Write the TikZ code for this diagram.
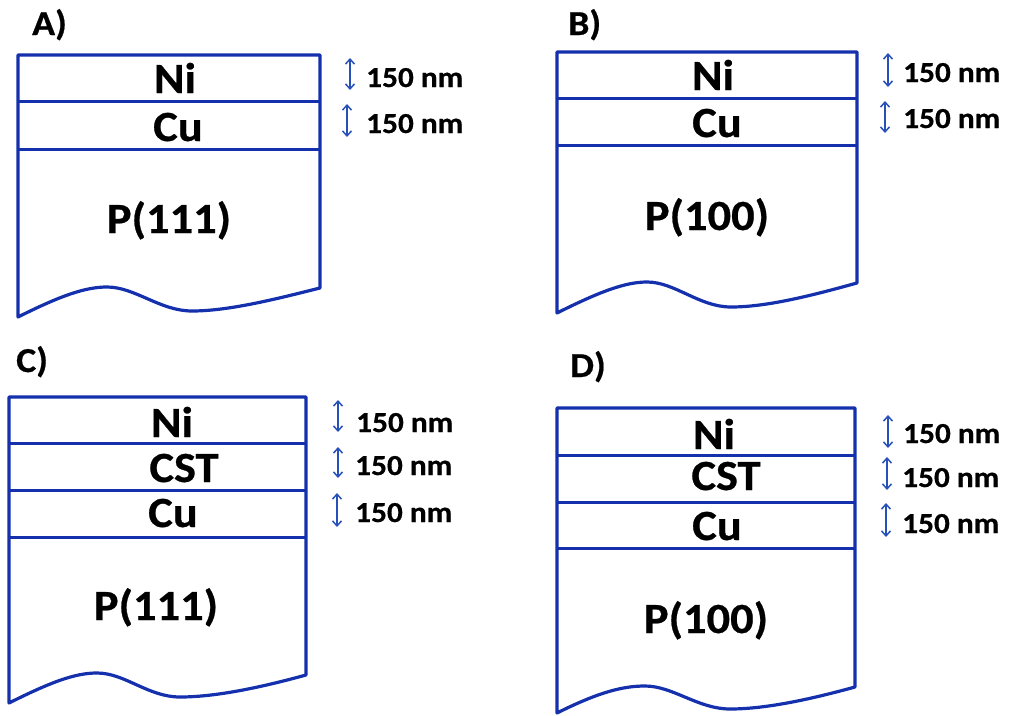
\documentclass[tikz,border=0pt]{standalone}
\usepackage{fontspec}
\setmainfont{Carlito}
\newfontfamily\figfont{Carlito}[FakeStretch=1.08,BoldFeatures={FakeBold=0.6}]
\usetikzlibrary{arrows.meta}
\definecolor{boxblue}{RGB}{20,48,172}
\definecolor{arrowblue}{RGB}{40,80,185}
\begin{document}
\begin{tikzpicture}[x=1pt,y=-1pt,
  outline/.style={draw=boxblue,line width=3.2pt,line join=round},
  divider/.style={draw=boxblue,line width=3pt},
  layerlbl/.style={font=\figfont\fontsize{43}{43}\selectfont\bfseries,anchor=base,inner sep=0pt},
  dimlbl/.style={font=\figfont\fontsize{29}{29}\selectfont\bfseries,anchor=base west,inner sep=0pt},
  panellbl/.style={font=\figfont\fontsize{35}{35}\selectfont\bfseries,anchor=base west,inner sep=0pt},
  dimarrow/.style={draw=arrowblue,line width=1.5pt,{Straight Barb[length=5pt,width=9pt]}-{Straight Barb[length=5pt,width=9pt]}}]
\useasboundingbox (0,0) rectangle (1009,715);

% ---------- Panel A ----------
\node[panellbl] (lA) at (32,35) {A)};
\draw[outline] (320,288) -- (320,55) -- (18,55) -- (18,317)
  .. controls (60,296) and (85,287) .. (107,287)
  .. controls (135,287) and (160,311) .. (192,311)
  .. controls (230,311) and (280,298) .. (320,288) -- cycle;
\draw[divider] (18,101) -- (320,101);
\draw[divider] (18,149) -- (320,149);
\node[layerlbl] (A1) at (175,93) {Ni};
\node[layerlbl] (A2) at (178,141) {Cu};
\node[layerlbl] (A3) at (169,233) {P(111)};
\coordinate (aA1t) at (350,58); \coordinate (aA1b) at (350,90);
\coordinate (aA2t) at (347,104); \coordinate (aA2b) at (347,137);
\draw[dimarrow] (aA1t) -- (aA1b);
\draw[dimarrow] (aA2t) -- (aA2b);
\node[dimlbl] (dA1) at (366,87) {150 nm};
\node[dimlbl] (dA2) at (366,133) {150 nm};

% ---------- Panel B ----------
\node[panellbl] (lB) at (568,35) {B)};
\draw[outline] (857,283) -- (857,52) -- (557,52) -- (557,313)
  .. controls (599,292) and (625,282) .. (647,282)
  .. controls (675,282) and (699,307) .. (731,307)
  .. controls (769,307) and (817,294) .. (857,283) -- cycle;
\draw[divider] (557,98) -- (857,98);
\draw[divider] (557,145) -- (857,145);
\node[layerlbl] (B1) at (713,90) {Ni};
\node[layerlbl] (B2) at (717,137) {Cu};
\node[layerlbl] (B3) at (707,230) {P(100)};
\coordinate (aB1t) at (888,53); \coordinate (aB1b) at (888,87);
\coordinate (aB2t) at (885,101); \coordinate (aB2b) at (885,133);
\draw[dimarrow] (aB1t) -- (aB1b);
\draw[dimarrow] (aB2t) -- (aB2b);
\node[dimlbl] (dB1) at (903,82) {150 nm};
\node[dimlbl] (dB2) at (903,128) {150 nm};

% ---------- Panel C ----------
\node[panellbl] (lC) at (16,372) {C)};
\draw[outline] (306,675) -- (306,397) -- (9,397) -- (9,703)
  .. controls (51,682) and (75,673) .. (97,673)
  .. controls (125,673) and (148,697) .. (180,697)
  .. controls (218,697) and (266,686) .. (306,675) -- cycle;
\draw[divider] (9,443) -- (306,443);
\draw[divider] (9,490) -- (306,490);
\draw[divider] (9,537) -- (306,537);
\node[layerlbl] (C1) at (172,437) {Ni};
\node[layerlbl] (C2) at (184,482) {CST};
\node[layerlbl] (C3) at (173,527) {Cu};
\node[layerlbl] (C4) at (156,620) {P(111)};
\coordinate (aC1t) at (338,400); \coordinate (aC1b) at (338,432);
\coordinate (aC2t) at (338,447); \coordinate (aC2b) at (338,478);
\coordinate (aC3t) at (337,493); \coordinate (aC3b) at (337,527);
\draw[dimarrow] (aC1t) -- (aC1b);
\draw[dimarrow] (aC2t) -- (aC2b);
\draw[dimarrow] (aC3t) -- (aC3b);
\node[dimlbl] (dC1) at (356,432) {150 nm};
\node[dimlbl] (dC2) at (355,475) {150 nm};
\node[dimlbl] (dC3) at (355,522) {150 nm};

% ---------- Panel D ----------
\node[panellbl] (lD) at (570,377) {D)};
\draw[outline] (855,687) -- (855,408) -- (557,408) -- (557,713)
  .. controls (599,692) and (623,686) .. (645,686)
  .. controls (673,686) and (698,709) .. (730,709)
  .. controls (768,709) and (815,698) .. (855,687) -- cycle;
\draw[divider] (557,455) -- (855,455);
\draw[divider] (557,502) -- (855,502);
\draw[divider] (557,548) -- (855,548);
\node[layerlbl] (D1) at (714,449) {Ni};
\node[layerlbl] (D2) at (726,490) {CST};
\node[layerlbl] (D3) at (717,540) {Cu};
\node[layerlbl] (D4) at (706,633) {P(100)};
\coordinate (aD1t) at (888,415); \coordinate (aD1b) at (888,448);
\coordinate (aD2t) at (887,457); \coordinate (aD2b) at (887,490);
\coordinate (aD3t) at (886,503); \coordinate (aD3b) at (886,537);
\draw[dimarrow] (aD1t) -- (aD1b);
\draw[dimarrow] (aD2t) -- (aD2b);
\draw[dimarrow] (aD3t) -- (aD3b);
\node[dimlbl] (dD1) at (903,443) {150 nm};
\node[dimlbl] (dD2) at (902,487) {150 nm};
\node[dimlbl] (dD3) at (902,533) {150 nm};
\end{tikzpicture}
\end{document}
